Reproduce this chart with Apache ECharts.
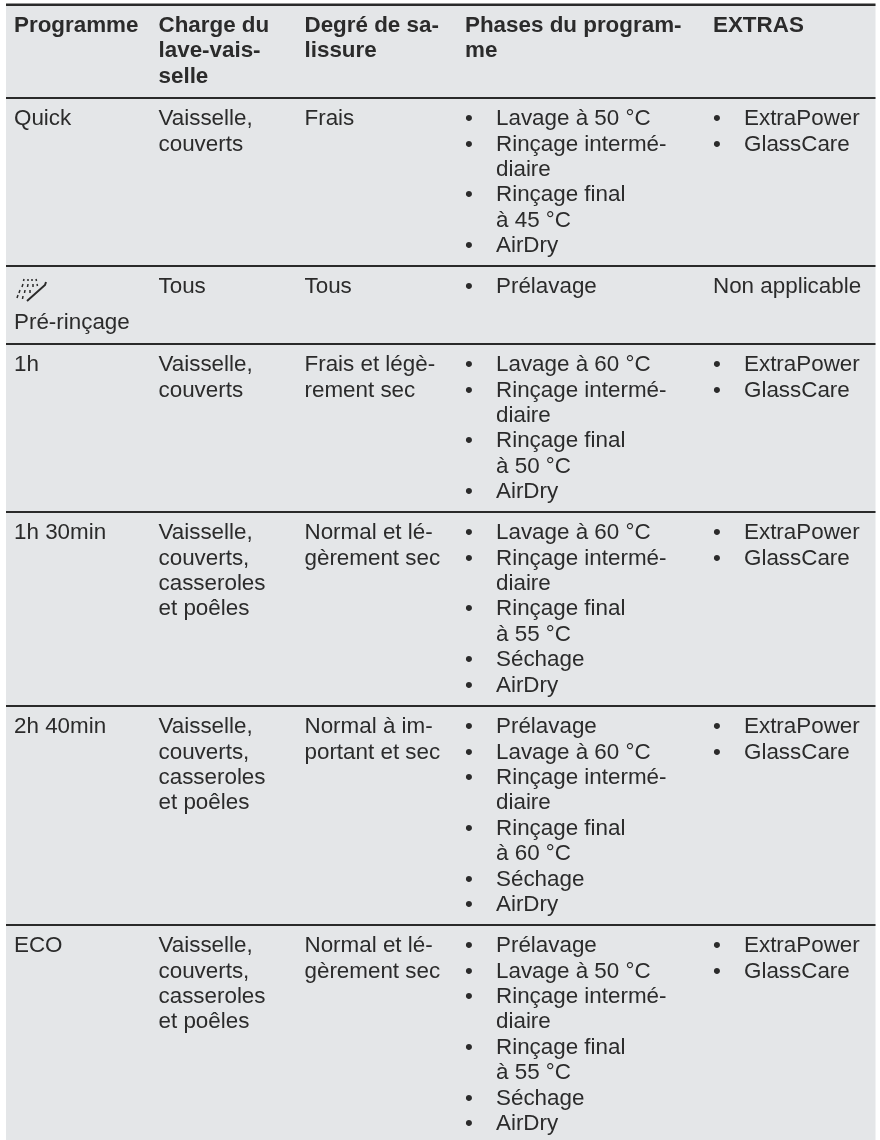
<!DOCTYPE html>
<html>
<head>
<meta charset="utf-8">
<title>Programmes</title>
<script src="https://cdn.jsdelivr.net/npm/echarts@6/dist/echarts.min.js"></script>
<style>
    html, body { margin: 0; padding: 0; background: #ffffff; }
    #chart { width: 880px; height: 1140px; }
</style>
</head>
<body>
<div id="chart"></div>
<script>
// table content, one array per column, "\n" marks a line break in a cell
const headers = [
    "Programme",
    "Charge du\nlave-vais-\nselle",
    "Degré de sa-\nlissure",
    "Phases du program-\nme",
    "EXTRAS",
];
const programmes = ["Quick", "", "1h", "1h 30min", "2h 40min", "ECO"];
const loads = [
    "Vaisselle,\ncouverts",
    "Tous",
    "Vaisselle,\ncouverts",
    "Vaisselle,\ncouverts,\ncasseroles\net poêles",
    "Vaisselle,\ncouverts,\ncasseroles\net poêles",
    "Vaisselle,\ncouverts,\ncasseroles\net poêles",
];
const soils = [
    "Frais",
    "Tous",
    "Frais et légè-\nrement sec",
    "Normal et lé-\ngèrement sec",
    "Normal à im-\nportant et sec",
    "Normal et lé-\ngèrement sec",
];
const phases = [
    ["Lavage à 50 °C", "Rinçage intermé-\ndiaire", "Rinçage final\nà 45 °C", "AirDry"],
    ["Prélavage"],
    ["Lavage à 60 °C", "Rinçage intermé-\ndiaire", "Rinçage final\nà 50 °C", "AirDry"],
    ["Lavage à 60 °C", "Rinçage intermé-\ndiaire", "Rinçage final\nà 55 °C", "Séchage", "AirDry"],
    ["Prélavage", "Lavage à 60 °C", "Rinçage intermé-\ndiaire", "Rinçage final\nà 60 °C", "Séchage", "AirDry"],
    ["Prélavage", "Lavage à 50 °C", "Rinçage intermé-\ndiaire", "Rinçage final\nà 55 °C", "Séchage", "AirDry"],
];
const extras = [
    ["ExtraPower", "GlassCare"],
    "Non applicable",
    ["ExtraPower", "GlassCare"],
    ["ExtraPower", "GlassCare"],
    ["ExtraPower", "GlassCare"],
    ["ExtraPower", "GlassCare"],
];
const preRinseLabel = "Pré-rinçage";

// layout, in page pixels
const COL_X = [14, 158.5, 304.5, 465, 713];
const BULLET_INDENT = 31;
const RULE_Y = [4.8, 98, 266, 344, 512, 706, 925];
const FIRST_LINE = 21;
const LINE_HEIGHT = 25.4;
const PRE_RINSE_Y = 323;
const ICON_POS = [16, 277];
const ICON_SPRAY =
    "M8 2l-.5 2M12 2v2M16 2v2M20 2l.5 2" +
    "M7 7l-1 3M12 7l-.5 3M17 7v3M21 7l.5 2" +
    "M4 13l-1 3M9 13l-.5 3M14 13v3" +
    "M2 18l-1 3M7 19l-.5 3";
const ICON_STROKE = "M30 5l-1 3L11 24";
const FONT_SIZE = 22.4;
const TEXT_COLOR = "#2b2b2b";
const RULE_COLOR = "#2a2a2a";

let textLines = [];

function addCell(text, x, y, bold) {
    text.split("\n").forEach((line, i) => {
        textLines.push({ x, y: y + i * LINE_HEIGHT, text: line, bold });
    });
}

function addList(items, x, y) {
    let offset = 0;
    items.forEach((item) => {
        addCell("•", x, y + offset * LINE_HEIGHT, false);
        addCell(item, x + BULLET_INDENT, y + offset * LINE_HEIGHT, false);
        offset += item.split("\n").length;
    });
}

headers.forEach((header, i) => {
    addCell(header, COL_X[i], RULE_Y[0] + FIRST_LINE, true);
});

programmes.forEach((programme, i) => {
    let y = RULE_Y[i + 1] + FIRST_LINE;
    if (programme) addCell(programme, COL_X[0], y, false);
    addCell(loads[i], COL_X[1], y, false);
    addCell(soils[i], COL_X[2], y, false);
    addList(phases[i], COL_X[3], y);
    if (Array.isArray(extras[i])) addList(extras[i], COL_X[4], y);
    else addCell(extras[i], COL_X[4], y, false);
});
addCell(preRinseLabel, COL_X[0], PRE_RINSE_Y, false);

let chartDom = document.getElementById("chart");
let myChart = echarts.init(chartDom);

function renderText(params, api) {
    let line = textLines[params.dataIndex];
    let pos = api.coord([line.x, line.y]);
    return {
        type: "text",
        style: {
            x: pos[0],
            y: pos[1],
            text: line.text,
            fill: TEXT_COLOR,
            font: (line.bold ? "bold " : "") + FONT_SIZE + 'px "Liberation Sans"',
            textAlign: "left",
            textVerticalAlign: "middle",
        },
    };
}

function renderRule(params, api) {
    let from = api.coord([6, RULE_Y[params.dataIndex]]);
    let to = api.coord([875.5, RULE_Y[params.dataIndex]]);
    return {
        type: "line",
        shape: { x1: from[0], y1: from[1], x2: to[0], y2: to[1] },
        style: { stroke: RULE_COLOR, lineWidth: params.dataIndex === 0 ? 2.4 : 2 },
    };
}

function renderIcon(params, api) {
    let pos = api.coord(ICON_POS);
    return {
        type: "group",
        x: pos[0],
        y: pos[1],
        children: [
            {
                type: "path",
                shape: { pathData: ICON_SPRAY },
                style: { stroke: TEXT_COLOR, fill: "none", lineWidth: 1.5 },
            },
            {
                type: "path",
                shape: { pathData: ICON_STROKE },
                style: { stroke: TEXT_COLOR, fill: "none", lineWidth: 2 },
            },
        ],
    };
}

let option = {
    animation: false,
    grid: {
        show: true,
        left: 6,
        right: 4.5,
        top: 4,
        bottom: 0,
        backgroundColor: "#e4e6e8",
        borderWidth: 0,
    },
    xAxis: { type: "value", min: 6, max: 875.5, show: false },
    yAxis: { type: "value", min: 4, max: 1140, inverse: true, show: false },
    series: [
        {
            type: "custom",
            data: RULE_Y.map((y) => [6, y]),
            renderItem: renderRule,
            silent: true,
        },
        {
            type: "custom",
            data: [ICON_POS],
            renderItem: renderIcon,
            silent: true,
        },
        {
            type: "custom",
            data: textLines.map((line) => [line.x, line.y]),
            renderItem: renderText,
            silent: true,
        },
    ],
};

option && myChart.setOption(option);
</script>
</body>
</html>
